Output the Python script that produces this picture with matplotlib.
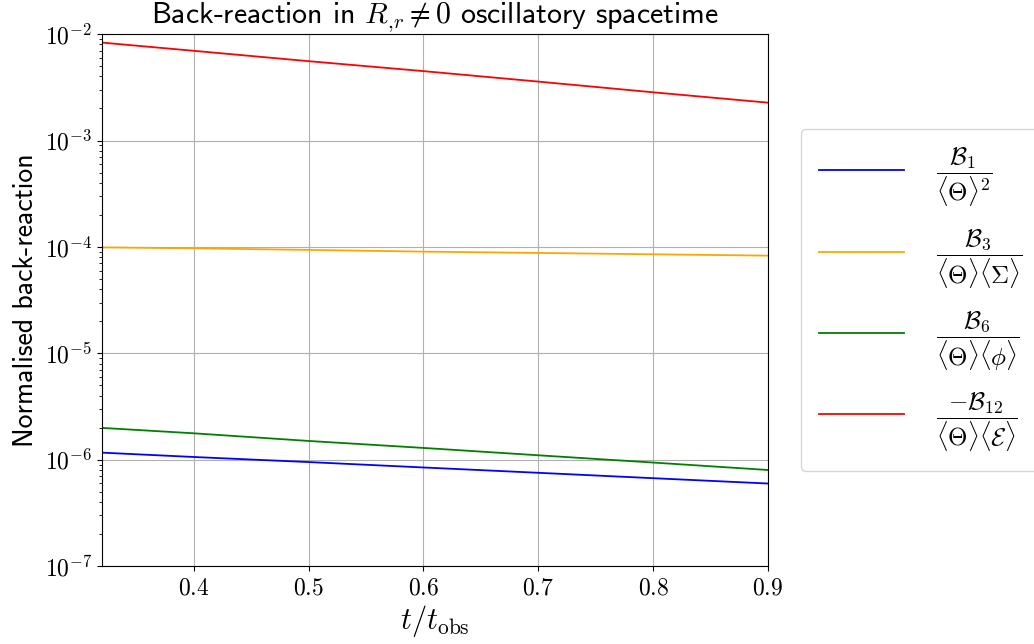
import matplotlib
matplotlib.use("Agg")
import matplotlib.pyplot as plt
from matplotlib.ticker import FixedLocator, FuncFormatter
import numpy as np

plt.rcParams['mathtext.fontset'] = 'cm'
plt.rcParams['axes.unicode_minus'] = False

# tempo normalizado
t = [0.32, 0.4, 0.5, 0.6, 0.7, 0.8, 0.9]

# back-reaction normalizada de cada termo
b1 = [1.165e-6, 1.06e-6, 9.5e-7, 8.45e-7, 7.53e-7, 6.7e-7, 5.97e-7]
b3 = [9.9e-5, 9.7e-5, 9.37e-5, 9.03e-5, 8.78e-5, 8.52e-5, 8.28e-5]
b6 = [1.99e-6, 1.77e-6, 1.50e-6, 1.29e-6, 1.10e-6, 9.4e-7, 8.0e-7]
b12 = [8.33e-3, 6.97e-3, 5.57e-3, 4.49e-3, 3.58e-3, 2.84e-3, 2.27e-3]

rotulos = [
    r'$\dfrac{\mathcal{B}_1}{\langle\Theta\rangle^2}$',
    r'$\dfrac{\mathcal{B}_3}{\langle\Theta\rangle\langle\Sigma\rangle}$',
    r'$\dfrac{\mathcal{B}_6}{\langle\Theta\rangle\langle\phi\rangle}$',
    r'$\dfrac{-\mathcal{B}_{12}}{\langle\Theta\rangle\langle\mathcal{E}\rangle}$',
]
cores = ['blue', 'orange', 'green', 'red']
x_ticks = [0.4, 0.5, 0.6, 0.7, 0.8, 0.9]

fig = plt.figure(figsize=(10.34, 6.44), dpi=100)
ax = fig.add_axes([0.0986, 0.121, 0.6441, 0.826])

for serie, cor, rotulo in zip([b1, b3, b6, b12], cores, rotulos):
    ax.plot(t, serie, color=cor, linewidth=1.3, label=rotulo)

ax.set_yscale('log')
ax.set_ylim(1e-7, 1e-2)
ax.set_xlim(0.32, 0.9)
ax.xaxis.set_major_locator(FixedLocator(x_ticks))
ax.xaxis.set_major_formatter(FuncFormatter(lambda v, p: r'$%.1f$' % v))
ax.yaxis.set_major_formatter(FuncFormatter(lambda v, p: r'$10^{%d}$' % round(np.log10(v))))
ax.tick_params(axis='both', which='major', labelsize=17)
ax.grid(True, which='major', color='#b0b0b0', linewidth=0.8)

ax.set_xlabel(r'$t/t_{\rm obs}$', fontsize=22, labelpad=2)
ax.set_ylabel('Normalised back-reaction', family='cmss10', fontsize=20, labelpad=5)
ax.set_title(r'Back-reaction in $R_{{,}r} \neq 0$ oscillatory spacetime',
             family='cmss10', fontsize=21.5, pad=4)

ax.legend(loc='center left', bbox_to_anchor=(1.05, 0.5), fontsize=18,
          handlelength=3.4, handletextpad=1.3, labelspacing=0.72,
          borderpad=0.7, borderaxespad=0.0, framealpha=0.8)

plt.savefig('out.png', dpi=100)
